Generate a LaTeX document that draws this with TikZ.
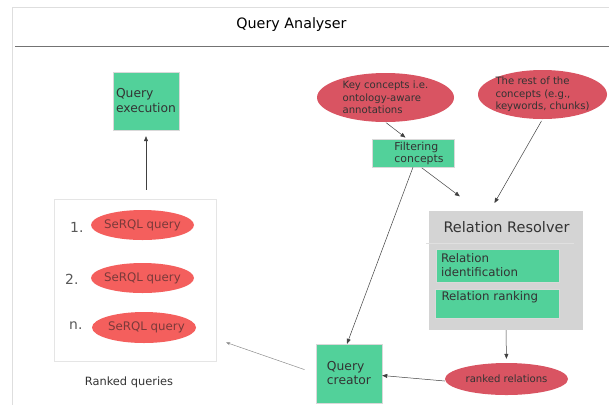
\documentclass[tikz,border=0pt]{standalone}
\usepackage{fontspec}
\setmainfont{DejaVu Sans}
\usetikzlibrary{shapes.geometric,arrows.meta}
\definecolor{qgreen}{HTML}{52D19A}
\definecolor{qsalmon}{HTML}{F45F5D}
\definecolor{qred}{HTML}{D95462}
\definecolor{qgray}{HTML}{D4D4D4}
\definecolor{qtext}{HTML}{333333}
\definecolor{qdarkred}{HTML}{7A3A3A}

\begin{document}
\begin{tikzpicture}[x=1pt,y=-1pt,>={Triangle[length=5pt,width=4pt]},
    greenbox/.style={draw=black!15,fill=qgreen,text=qtext,align=left,inner sep=0pt},
    redoval/.style={ellipse,fill=qred,text=qtext,align=left,inner sep=-5pt},
    queryoval/.style={ellipse,fill=qsalmon,text=qdarkred,inner sep=-5pt,
        minimum width=103pt,minimum height=30pt,font=\fontsize{11.8}{13}\selectfont},
    num/.style={anchor=east,text=black!65,font=\fontsize{13.9}{15}\selectfont},
    link/.style={->,draw=black!75,line width=0.5pt}]
    \useasboundingbox (0,0) rectangle (609,405);
    % frame and header
    \draw[black!13,line width=0.8pt] (609,7) -- (12,7) -- (12,405);
    \draw[black!55,line width=1pt] (15,46) -- (609,46);
    \node (title) at (291.5,25) {\fontsize{14.3}{16}\selectfont Query Analyser};
    % left part: ranked queries
    \node[greenbox,minimum width=66pt,minimum height=58pt,
        font=\fontsize{12.3}{15}\selectfont] (qexec) at (146,101) {Query\\execution};
    \node[draw=black!10,fill=white,minimum width=162pt,minimum height=162pt] (panel) at (135,280) {};
    \node[queryoval] (q1) at (142.5,225) {SeRQL query};
    \node[queryoval] (q2) at (142.5,278) {SeRQL query};
    \node[queryoval,minimum width=104pt,minimum height=31pt] (qn) at (144,327.5) {\hspace*{5pt}SeRQL query};
    \node[num] (num1) at (87,227) {1.};
    \node[num] (num2) at (82,279) {2.};
    \node[num] (numn) at (86,326) {n.};
    \node[text=qtext,font=\fontsize{11.4}{13}\selectfont] (rankedq) at (129,382) {Ranked queries};
    % concepts
    \node[redoval,minimum width=137pt,minimum height=49pt,
        font=\fontsize{10.1}{12.5}\selectfont] (key) at (385.5,97.5)
        {Key concepts i.e.\\ontology-aware\\annotations};
    \node[redoval,minimum width=129pt,minimum height=49pt,
        font=\fontsize{10.1}{12.5}\selectfont] (rest) at (542.5,94.5)
        {The rest of the\\concepts (e.g.,\\keywords, chunks)};
    \node[greenbox,minimum width=82pt,minimum height=28pt,
        font=\fontsize{10.9}{12}\selectfont] (filt) at (413,153) {\hspace*{12pt}Filtering\\\hspace*{12pt}concepts};
    % relation resolver
    \node[fill=qgray,minimum width=154pt,minimum height=119pt] (rr) at (506,270.5) {};
    \node[text=black!80,font=\fontsize{14.5}{16}\selectfont] (rrtitle) at (506.5,227) {Relation Resolver};
    \draw[black!12] ([xshift=-3pt,yshift=-32pt]rr.north west) -- ([xshift=-9pt,yshift=-32pt]rr.north east);
    \node[greenbox,minimum width=123pt,minimum height=33pt,text width=113pt,inner xsep=5pt,
        font=\fontsize{11.8}{14}\selectfont] (relid) at (497.5,265.5) {Relation\\identification};
    \node[greenbox,minimum width=123pt,minimum height=29pt,text width=112pt,inner xsep=6pt,
        inner ysep=2pt,text depth=14pt,font=\fontsize{11.8}{14}\selectfont] (relrank) at (497.5,303.5) {Relation ranking};
    \node[redoval,minimum width=123pt,minimum height=32pt,
        font=\fontsize{10.1}{11}\selectfont] (ranked) at (506.5,379) {ranked relations};
    \node[greenbox,minimum width=66pt,minimum height=59pt,
        font=\fontsize{12.3}{14}\selectfont] (qc) at (349,373.5) {Query\\creator};
    % connectors
    \draw[link,shorten <=9pt,shorten >=6pt] (panel.north -| qexec.south) -- (qexec.south);
    \draw[link,shorten <=1pt,shorten >=2pt] (key.south) -- ([xshift=-6pt]filt.north);
    \draw[link,shorten <=1pt,shorten >=24pt] ([xshift=8pt]filt.south) -- ([xshift=-27pt]rr.north);
    \draw[link,shorten <=2pt,shorten >=9pt] (rest.south) -- ([xshift=-16pt]rr.north);
    \draw[link] (filt.south) -- ([xshift=-2pt]qc.north);
    \draw[link,shorten >=4pt] (rr.south) -- (ranked.north);
    \draw[link] ([yshift=-2pt]ranked.west) -- ([yshift=-2pt]qc.east);
    \draw[-{Stealth[length=4pt,width=3pt]},draw=black!45,line width=0.5pt,
        shorten <=12pt,shorten >=10.6pt] (qc.west) -- ([yshift=-59pt]panel.east);
\end{tikzpicture}
\end{document}
